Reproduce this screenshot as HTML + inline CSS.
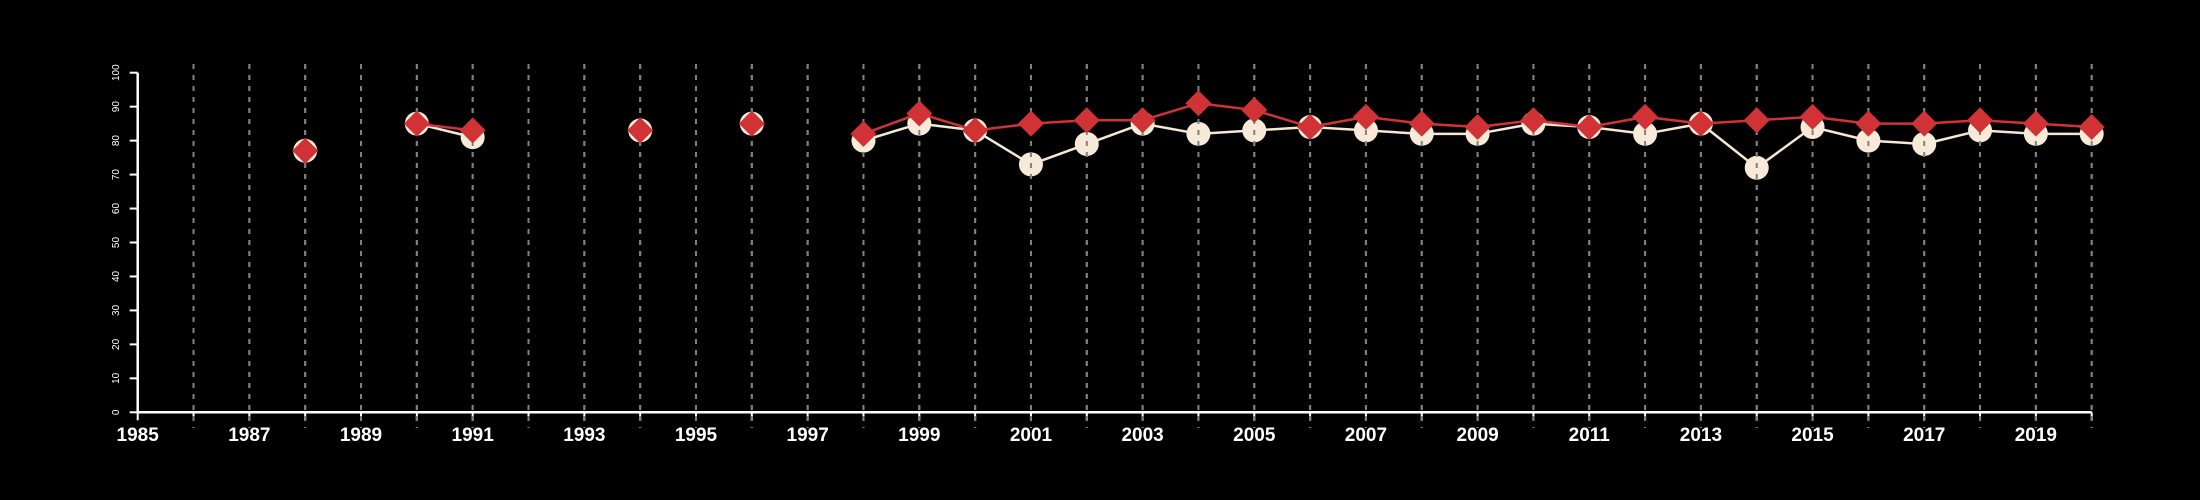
<!DOCTYPE html>
<html><head><meta charset="utf-8"><style>
html,body{margin:0;padding:0;background:#000;}
svg{display:block;font-family:"Liberation Sans",sans-serif;}
</style></head><body>
<svg id="chart" width="2200" height="500" viewBox="0 0 2200 500" xmlns="http://www.w3.org/2000/svg">
<rect width="2200" height="500" fill="#000"/>
<g id="grid"></g>
<g id="axes"></g>
<g id="series"></g>
</svg>
<script>
const years = [1988,1990,1991,1994,1996,1998,1999,2000,2001,2002,2003,2004,2005,2006,2007,2008,2009,2010,2011,2012,2013,2014,2015,2016,2017,2018,2019,2020];
const whiteSeries = [77,85,81,83,85,80,85,83,73,79,85,82,83,84,83,82,82,85,84,82,85,72,84,80,79,83,82,82];
const redSeries = [77,85,83,83,85,82,88,83,85,86,86,91,89,84,87,85,84,86,84,87,85,86,87,85,85,86,85,84];
const yTicks = [0,10,20,30,40,50,60,70,80,90,100];
const xMin = 1985, xMax = 2020;

const NS = "http://www.w3.org/2000/svg";
const X0 = 137.7, X1 = 2091.7, Y0 = 412.3, Y1 = 72.7;
function sx(v){ return X0 + (v - xMin) * (X1 - X0) / (xMax - xMin); }
function sy(v){ return Y0 + (v - 0) * (Y1 - Y0) / 100; }
function mk(tag, attrs, parent){ const e = document.createElementNS(NS, tag); for (const k in attrs) e.setAttribute(k, attrs[k]); parent.appendChild(e); return e; }

const grid = document.getElementById('grid');
const axes = document.getElementById('axes');
const series = document.getElementById('series');

let ax = mk('line', {x1: X0, y1: Y0, x2: X1, y2: Y0, stroke: '#fff', 'stroke-width': 2.5}, axes);


let ay = mk('line', {x1: X0, y1: Y0, x2: X0, y2: Y1, stroke: '#fff', 'stroke-width': 2.5}, axes);



yTicks.forEach(t => {
  const y = sy(t);
  const tk = mk('line', {x1: X0 - 8, y1: y, x2: X0, y2: y, stroke: '#fff', 'stroke-width': 2}, axes);
  
  
  const lb = mk('text', {x: 0, y: 0, fill: '#fff', 'font-size': 10, 'text-anchor': 'middle', transform: `translate(119,${y}) rotate(-90)`}, axes);
  lb.textContent = t;
  
  
});

for (let yr = xMin; yr <= xMax; yr++) {
  const x = sx(yr);
  if (yr > xMin) {
    const g = mk('line', {x1: x, y1: 64, x2: x, y2: 428, stroke: '#808080', 'stroke-width': 2, 'stroke-dasharray': '5,6'}, grid);
    
    
  }
  const tk = mk('line', {x1: x, y1: Y0, x2: x, y2: Y0 + 8, stroke: '#fff', 'stroke-width': 2}, axes);
  
  
  if ((yr - xMin) % 2 === 0) {
    const lb = mk('text', {x: x, y: 441, fill: '#fff', 'font-size': 19, 'font-weight': 'bold', 'text-anchor': 'middle'}, axes);
    lb.textContent = yr;
    
    
  }
}

function drawLines(vals, color, name) {
  for (let i = 1; i < years.length; i++) {
    if (years[i] - years[i-1] === 1) {
      const l = mk('line', {x1: sx(years[i-1]), y1: sy(vals[i-1]), x2: sx(years[i]), y2: sy(vals[i]), stroke: color, 'stroke-width': 2.5}, series);
      
      
    }
  }
}
drawLines(whiteSeries, '#f5e8d5', 'white-series-line');
years.forEach((yr, i) => {
  const c = mk('circle', {cx: sx(yr), cy: sy(whiteSeries[i]), r: 12, fill: '#f8ead8'}, series);
  
  
});
series.appendChild(grid.cloneNode(true));
drawLines(redSeries, '#d03236', 'red-series-line');
years.forEach((yr, i) => {
  const x = sx(yr), y = sy(redSeries[i]), h = 13;
  const d = mk('polygon', {points: `${x},${y-h} ${x+h},${y} ${x},${y+h} ${x-h},${y}`, fill: '#d03236'}, series);
  
  
});
</script>
</body></html>
